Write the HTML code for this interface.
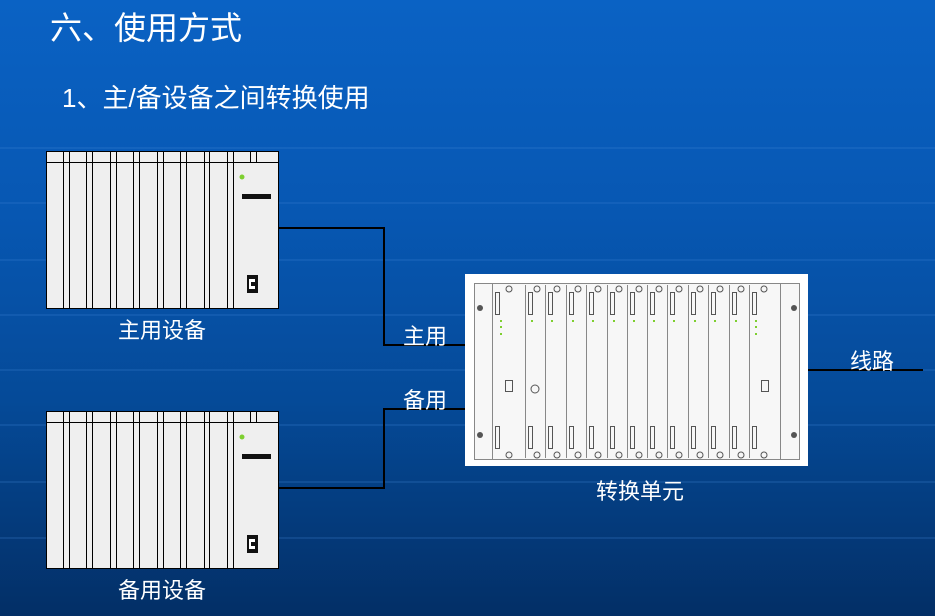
<!DOCTYPE html>
<html><head><meta charset="utf-8"><style>
html,body{margin:0;padding:0;width:935px;height:616px;overflow:hidden}
body{background:linear-gradient(180deg,#0a62c4 0%,#0757b2 35%,#054a98 65%,#032f66 100%);font-family:"Liberation Sans","Noto Sans CJK SC",sans-serif}
svg{position:absolute;left:0;top:0}
</style></head><body>
<svg width="935" height="616" viewBox="0 0 935 616" font-family="Liberation Sans, Noto Sans CJK SC, sans-serif">
<g stroke="#3f86d6" stroke-opacity="0.22" stroke-width="2">
<line x1="0" y1="148" x2="935" y2="148"/><line x1="0" y1="203" x2="935" y2="203"/>
<line x1="0" y1="260" x2="935" y2="260"/><line x1="0" y1="315" x2="935" y2="315"/>
<line x1="0" y1="370" x2="935" y2="370"/><line x1="0" y1="425" x2="935" y2="425"/>
<line x1="0" y1="482" x2="935" y2="482"/><line x1="0" y1="538" x2="935" y2="538"/>
</g>
<text x="50" y="39" font-size="32" fill="#fff">六、使用方式</text>
<text x="62" y="107" font-size="26" fill="#fff">1、主/备设备之间转换使用</text>

<g id="dev">
<rect x="46.5" y="151.5" width="232" height="157" fill="#efefef" stroke="#000"/>
<line x1="46" y1="162.5" x2="279" y2="162.5" stroke="#000"/>
<g fill="none" stroke="#000">
<rect x="63.5" y="151.5" width="6" height="157"/><rect x="86.5" y="151.5" width="6" height="157"/>
<rect x="110.5" y="151.5" width="6" height="157"/><rect x="133.5" y="151.5" width="6" height="157"/>
<rect x="157.5" y="151.5" width="6" height="157"/><rect x="180.5" y="151.5" width="6" height="157"/>
<rect x="204.5" y="151.5" width="5" height="157"/><rect x="227.5" y="151.5" width="6" height="157"/>
<line x1="250.5" y1="151" x2="250.5" y2="162"/><line x1="256.5" y1="151" x2="256.5" y2="162"/>
</g>
<circle cx="242" cy="177" r="2.5" fill="#7ecf30"/>
<rect x="242" y="194" width="29" height="5" fill="#111"/>
<rect x="247" y="275" width="11" height="18" fill="#111"/>
<rect x="249" y="279" width="6" height="10" fill="#fff"/><rect x="251" y="282" width="4" height="4" fill="#111"/>
</g>
<use href="#dev" y="260"/>

<g stroke="#000" stroke-width="2" fill="none">
<polyline points="279,228 384,228 384,345 465,345"/>
<polyline points="279,488 384,488 384,409 465,409"/>
<line x1="808" y1="370" x2="923" y2="370"/>
</g>

<rect x="465" y="274" width="343" height="192" fill="#fff"/>
<g stroke="#888" fill="none">
<rect x="474.5" y="283.5" width="325" height="176" fill="#f7f7f7"/>
<line x1="492.5" y1="283" x2="492.5" y2="460"/><line x1="780.5" y1="283" x2="780.5" y2="460"/>
<line x1="525.5" y1="285" x2="525.5" y2="458"/><line x1="545.5" y1="285" x2="545.5" y2="458"/>
<line x1="566.5" y1="285" x2="566.5" y2="458"/><line x1="586.5" y1="285" x2="586.5" y2="458"/>
<line x1="607.5" y1="285" x2="607.5" y2="458"/><line x1="627.5" y1="285" x2="627.5" y2="458"/>
<line x1="647.5" y1="285" x2="647.5" y2="458"/><line x1="667.5" y1="285" x2="667.5" y2="458"/>
<line x1="688.5" y1="285" x2="688.5" y2="458"/><line x1="708.5" y1="285" x2="708.5" y2="458"/>
<line x1="729.5" y1="285" x2="729.5" y2="458"/><line x1="749.5" y1="285" x2="749.5" y2="458"/>
</g>
<g fill="#555">
<circle cx="480" cy="308" r="3"/><circle cx="480" cy="435" r="3"/>
<circle cx="794" cy="308" r="3"/><circle cx="794" cy="435" r="3"/>
</g>
<g stroke="#555" fill="none" stroke-width="1">
<rect x="495.5" y="292.5" width="4" height="22"/><rect x="495.5" y="426.5" width="4" height="22"/>
<rect x="528.5" y="292.5" width="4" height="22"/><rect x="528.5" y="426.5" width="4" height="22"/>
<rect x="548.5" y="292.5" width="4" height="22"/><rect x="548.5" y="426.5" width="4" height="22"/>
<rect x="569.5" y="292.5" width="4" height="22"/><rect x="569.5" y="426.5" width="4" height="22"/>
<rect x="589.5" y="292.5" width="4" height="22"/><rect x="589.5" y="426.5" width="4" height="22"/>
<rect x="610.5" y="292.5" width="4" height="22"/><rect x="610.5" y="426.5" width="4" height="22"/>
<rect x="630.5" y="292.5" width="4" height="22"/><rect x="630.5" y="426.5" width="4" height="22"/>
<rect x="650.5" y="292.5" width="4" height="22"/><rect x="650.5" y="426.5" width="4" height="22"/>
<rect x="670.5" y="292.5" width="4" height="22"/><rect x="670.5" y="426.5" width="4" height="22"/>
<rect x="691.5" y="292.5" width="4" height="22"/><rect x="691.5" y="426.5" width="4" height="22"/>
<rect x="711.5" y="292.5" width="4" height="22"/><rect x="711.5" y="426.5" width="4" height="22"/>
<rect x="732.5" y="292.5" width="4" height="22"/><rect x="732.5" y="426.5" width="4" height="22"/>
<rect x="752.5" y="292.5" width="4" height="22"/><rect x="752.5" y="426.5" width="4" height="22"/>
<rect x="505.5" y="380.5" width="7" height="11"/><rect x="761.5" y="380.5" width="7" height="11"/>
<circle cx="535" cy="389" r="4"/>
<circle cx="509" cy="289" r="3"/><circle cx="537" cy="289" r="3"/><circle cx="557" cy="289" r="3"/>
<circle cx="578" cy="289" r="3"/><circle cx="598" cy="289" r="3"/><circle cx="619" cy="289" r="3"/>
<circle cx="639" cy="289" r="3"/><circle cx="659" cy="289" r="3"/><circle cx="679" cy="289" r="3"/>
<circle cx="700" cy="289" r="3"/><circle cx="720" cy="289" r="3"/><circle cx="741" cy="289" r="3"/>
<circle cx="764" cy="289" r="3"/>
<circle cx="509" cy="455" r="3"/><circle cx="537" cy="455" r="3"/><circle cx="557" cy="455" r="3"/>
<circle cx="578" cy="455" r="3"/><circle cx="598" cy="455" r="3"/><circle cx="619" cy="455" r="3"/>
<circle cx="639" cy="455" r="3"/><circle cx="659" cy="455" r="3"/><circle cx="679" cy="455" r="3"/>
<circle cx="700" cy="455" r="3"/><circle cx="720" cy="455" r="3"/><circle cx="741" cy="455" r="3"/>
<circle cx="764" cy="455" r="3"/>
</g>
<g fill="#7ecf30">
<rect x="500" y="320" width="2" height="2"/><rect x="500" y="326" width="2" height="2"/><rect x="500" y="333" width="2" height="2"/>
<rect x="755" y="320" width="2" height="2"/><rect x="755" y="326" width="2" height="2"/><rect x="755" y="333" width="2" height="2"/>
<rect x="531" y="320" width="2" height="2"/><rect x="551" y="320" width="2" height="2"/><rect x="572" y="320" width="2" height="2"/>
<rect x="592" y="320" width="2" height="2"/><rect x="613" y="320" width="2" height="2"/><rect x="633" y="320" width="2" height="2"/>
<rect x="653" y="320" width="2" height="2"/><rect x="673" y="320" width="2" height="2"/><rect x="694" y="320" width="2" height="2"/>
<rect x="714" y="320" width="2" height="2"/><rect x="735" y="320" width="2" height="2"/>
</g>

<g fill="#fff" font-size="22">
<text x="118" y="338">主用设备</text>
<text x="118" y="598">备用设备</text>
<text x="403" y="344">主用</text>
<text x="403" y="408">备用</text>
<text x="596" y="499">转换单元</text>
<text x="850" y="369">线路</text>
</g>
</svg>
</body></html>
